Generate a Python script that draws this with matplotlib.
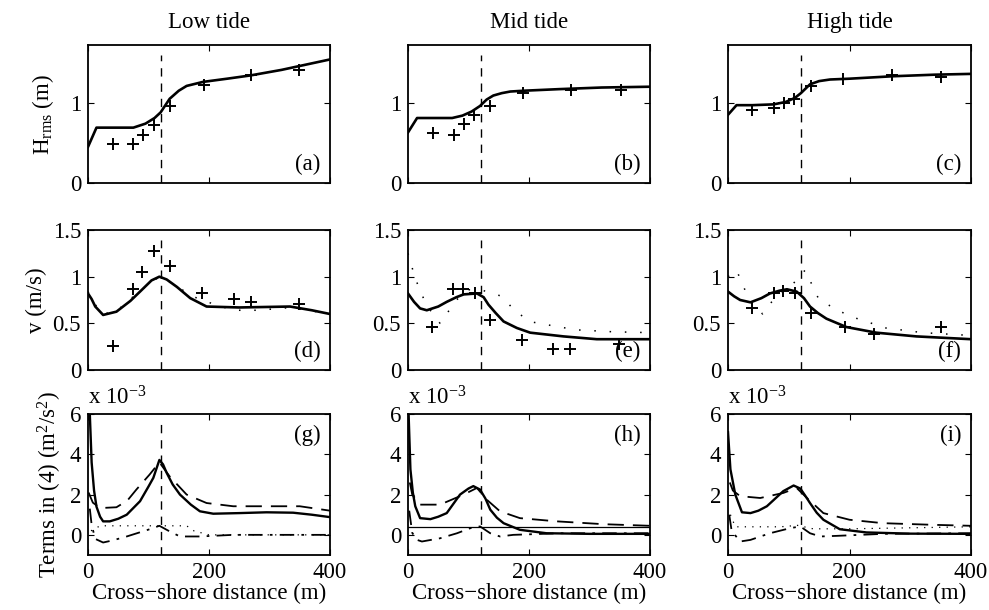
import numpy as np
import matplotlib.pyplot as plt

plt.rcParams["font.family"] = ["Liberation Serif", "DejaVu Serif"]
plt.rcParams["mathtext.fontset"] = "custom"
plt.rcParams["mathtext.rm"] = "Liberation Serif"
plt.rcParams["mathtext.it"] = "Liberation Serif:italic"
plt.rcParams["font.size"] = 16.5

titles = ["Low tide", "Mid tide", "High tide"]
x_break = 120  # vertical dashed line

# ---- row 1: Hrms model (solid) and observations (+)
h_mod_x = [[0, 14, 40, 75, 95, 110, 120, 135, 150, 163, 190, 230, 268, 320, 400],
           [0, 15, 40, 73, 90, 105, 119, 130, 141, 155, 169, 191, 250, 320, 400],
           [0, 14, 40, 75, 95, 110, 120, 135, 150, 168, 200, 270, 340, 400]]
h_mod_y = [[0.45, 0.69, 0.69, 0.69, 0.74, 0.81, 0.88, 1.05, 1.15, 1.21, 1.26, 1.30, 1.34, 1.41, 1.54],
           [0.63, 0.81, 0.81, 0.81, 0.84, 0.89, 0.96, 1.04, 1.09, 1.12, 1.14, 1.15, 1.17, 1.19, 1.20],
           [0.85, 0.97, 0.97, 0.98, 1.01, 1.06, 1.12, 1.23, 1.27, 1.29, 1.30, 1.33, 1.35, 1.36]]
h_obs_x = [[41, 75, 91, 109, 135, 192, 270, 349],
           [41, 76, 92, 109, 136, 190, 269, 352],
           [39, 76, 93, 109, 137, 190, 270, 351]]
h_obs_y = [[0.49, 0.49, 0.60, 0.72, 0.96, 1.22, 1.34, 1.41],
           [0.62, 0.60, 0.74, 0.85, 0.96, 1.12, 1.16, 1.16],
           [0.91, 0.93, 1.00, 1.05, 1.21, 1.29, 1.34, 1.32]]

# ---- row 2: longshore current v, model (solid), second model (dotted), obs (+)
v_mod_x = [[0, 6, 12, 25, 47, 70, 86, 105, 118, 130, 147, 169, 196, 250, 334, 370, 400],
           [0, 10, 20, 31, 50, 64, 80, 92, 114, 125, 133, 145, 158, 180, 202, 257, 312, 400],
           [0, 10, 20, 37, 55, 69, 85, 97, 113, 125, 135, 148, 162, 195, 244, 310, 400]]
v_mod_y = [[0.82, 0.76, 0.68, 0.59, 0.625, 0.74, 0.84, 0.96, 1.0, 0.97, 0.89, 0.77, 0.68, 0.67, 0.68, 0.64, 0.6],
           [0.82, 0.73, 0.66, 0.64, 0.68, 0.73, 0.78, 0.81, 0.82, 0.78, 0.70, 0.61, 0.52, 0.45, 0.40, 0.36, 0.33, 0.33],
           [0.84, 0.79, 0.75, 0.725, 0.77, 0.82, 0.85, 0.865, 0.84, 0.77, 0.68, 0.61, 0.55, 0.46, 0.40, 0.36, 0.33]]
v_dot_x = [[0, 12, 25, 47, 86, 118, 147, 169, 192, 240, 280, 336, 400],
           [0, 4, 12, 30, 53, 80, 100, 120, 140, 155, 173, 200, 251, 279, 337, 400],
           [0, 14, 35, 57, 80, 108, 127, 150, 199, 260, 321, 400]]
v_dot_y = [[0.84, 0.7, 0.6, 0.63, 0.85, 1.0, 0.9, 0.8, 0.74, 0.64, 0.64, 0.67, 0.6],
           [1.25, 1.16, 0.98, 0.7, 0.5, 0.75, 0.86, 0.86, 0.82, 0.79, 0.66, 0.52, 0.46, 0.43, 0.41, 0.40],
           [1.0, 1.07, 0.75, 0.6, 0.8, 0.93, 1.07, 0.75, 0.58, 0.45, 0.40, 0.37]]
v_obs_x = [[41, 75, 90, 109, 136, 189, 241, 269, 349],
           [40, 74, 91, 111, 135, 189, 239, 267, 348],
           [39, 75, 91, 110, 136, 192, 240, 350]]
v_obs_y = [[0.26, 0.87, 1.05, 1.27, 1.11, 0.83, 0.76, 0.73, 0.71],
           [0.46, 0.87, 0.87, 0.83, 0.54, 0.32, 0.23, 0.23, 0.28],
           [0.66, 0.83, 0.85, 0.82, 0.61, 0.46, 0.39, 0.46]]

# ---- row 3: terms in (4), units of 1e-3 m^2/s^2
t1_x = [[0, 3, 6, 10, 14, 20, 25, 36, 50, 64, 86, 100, 108, 118, 124, 130, 140, 152, 170, 185, 207, 250, 295, 339, 370, 400],
        [1, 4, 8, 12, 20, 37, 50, 64, 86, 100, 108, 119, 128, 136, 147, 158, 185, 229, 300, 400],
        [0, 4, 12, 23, 37, 50, 64, 91, 108, 119, 127, 135, 146, 157, 184, 228, 300, 400]]
t1_y = [[6.5, 6.0, 3.6, 2.2, 1.4, 0.9, 0.67, 0.67, 0.8, 1.0, 1.67, 2.4, 2.83, 3.72, 3.5, 3.08, 2.5, 2.0, 1.5, 1.17, 1.05, 1.08, 1.12, 1.1, 1.0, 0.88],
        [6.0, 3.25, 2.1, 1.42, 0.83, 0.78, 0.9, 1.08, 2.0, 2.3, 2.42, 2.25, 1.8, 1.25, 0.85, 0.58, 0.25, 0.08, 0.05, 0.05],
        [5.1, 3.25, 2.0, 1.12, 1.08, 1.2, 1.42, 2.17, 2.45, 2.3, 1.95, 1.58, 1.1, 0.75, 0.28, 0.12, 0.06, 0.05]]
t2_x = [[1, 8, 20, 47, 65, 80, 102, 118, 135, 163, 196, 240, 295, 350, 400],
        [3, 7, 20, 53, 92, 114, 130, 152, 185, 246, 323, 400],
        [3, 8, 20, 53, 91, 113, 130, 157, 200, 255, 336, 400]]
t2_y = [[2.1, 1.6, 1.33, 1.37, 1.7, 2.25, 3.0, 3.6, 2.9, 2.0, 1.58, 1.42, 1.42, 1.42, 1.2],
        [2.6, 2.0, 1.5, 1.5, 2.0, 2.33, 1.75, 1.17, 0.83, 0.67, 0.53, 0.45],
        [2.6, 2.2, 1.92, 1.83, 2.08, 2.33, 1.83, 1.08, 0.75, 0.58, 0.5, 0.45]]
t3_x = [[3, 6, 12, 25, 40, 64, 102, 118, 135, 152, 185, 240, 400],
        [2, 7, 15, 23, 53, 81, 103, 119, 136, 152, 174, 251, 400],
        [2, 6, 20, 37, 69, 102, 119, 135, 152, 179, 255, 400]]
t3_y = [[1.3, 0.5, -0.2, -0.38, -0.28, -0.08, 0.28, 0.45, 0.17, -0.08, -0.08, 0.0, 0.0],
        [1.2, 0.1, -0.25, -0.33, -0.17, 0.08, 0.33, 0.42, 0.08, -0.08, 0.0, 0.08, 0.08],
        [1.0, 0.2, -0.33, -0.25, 0.08, 0.33, 0.42, 0.08, -0.08, -0.05, 0.05, 0.08]]
t4_x = [[5, 20, 56, 100, 120, 163, 175, 200, 400],
        [0, 400],
        [4, 12, 40, 80, 100, 110, 125, 140, 200, 300, 400]]
t4_y = [[0.2, 0.45, 0.45, 0.45, 0.45, 0.45, 0.2, 0.0, 0.0],
        [0.4, 0.4],
        [1.0, 0.4, 0.4, 0.4, 0.42, 0.5, 0.4, 0.3, 0.3, 0.35, 0.4]]

panel_tags = [["(a)", "(b)", "(c)"], ["(d)", "(e)", "(f)"], ["(g)", "(h)", "(i)"]]

W, H = 989, 610
fig = plt.figure(figsize=(W / 100, H / 100), dpi=100)

col_left = [88, 408, 728]
col_w = [242, 242, 243]
row_top = [45, 230, 414]
row_bot = [183, 370, 555]


def make_ax(r, c):
    ax = fig.add_axes([col_left[c] / W, 1 - row_bot[r] / H,
                       col_w[c] / W, (row_bot[r] - row_top[r]) / H])
    ax.tick_params(direction="in", top=True, right=True, length=4, width=0.8, pad=5)
    for s in ax.spines.values():
        s.set_linewidth(1.3)
    ax.set_xlim(0, 400)
    ax.set_xticks([0, 200, 400])
    return ax


mk = dict(ls="none", marker="+", ms=9, mew=1.4, color="k")
dash_v = dict(color="k", lw=1.0, ls=(0, (6, 5)), ymax=0.93)
sparse_dot = (0, (1, 9))

for c in range(3):
    # row 1
    ax = make_ax(0, c)
    ax.plot(h_mod_x[c], h_mod_y[c], color="k", lw=1.9)
    ax.plot(h_obs_x[c], h_obs_y[c], **mk)
    ax.axvline(x_break, **dash_v)
    ax.set_ylim(0, 1.72)
    ax.set_yticks([0, 1])
    ax.set_xticklabels([])
    ax.set_title(titles[c], pad=12, fontsize=16.5)
    ax.text(0.96, 0.06, panel_tags[0][c], transform=ax.transAxes, ha="right", va="bottom")
    if c == 0:
        ax.set_ylabel(r"H$_{\rm rms}$ (m)", labelpad=10)

    # row 2
    ax = make_ax(1, c)
    ax.plot(v_dot_x[c], v_dot_y[c], color="k", lw=1.1, ls=sparse_dot)
    ax.plot(v_mod_x[c], v_mod_y[c], color="k", lw=1.9)
    ax.plot(v_obs_x[c], v_obs_y[c], **mk)
    ax.axvline(x_break, **dash_v)
    ax.set_ylim(0, 1.5)
    ax.set_yticks([0, 0.5, 1, 1.5])
    ax.set_yticklabels(["0", "0.5", "1", "1.5"])
    ax.set_xticklabels([])
    ax.text(0.96, 0.06, panel_tags[1][c], transform=ax.transAxes, ha="right", va="bottom")
    if c == 0:
        ax.set_ylabel("v (m/s)", labelpad=4)

    # row 3
    ax = make_ax(2, c)
    ax.plot(t4_x[c], t4_y[c], color="k", lw=0.9, ls="-" if c == 1 else (0, (1, 5)))
    ax.plot(t3_x[c], t3_y[c], color="k", lw=1.3, ls=(0, (8, 4, 1.5, 4)))
    ax.plot(t2_x[c], t2_y[c], color="k", lw=1.3, ls=(0, (9, 5)))
    ax.plot(t1_x[c], t1_y[c], color="k", lw=1.7)
    ax.axvline(x_break, **dash_v)
    ax.set_ylim(-1, 6)
    ax.set_yticks([0, 2, 4, 6])
    ax.set_xticklabels(["0", "200", "400"])
    ax.set_xlabel("Cross\u2212shore distance (m)", labelpad=0)
    ax.text(0.96, 0.92, panel_tags[2][c], transform=ax.transAxes, ha="right", va="top")
    ax.text(0.0, 1.03, r"x 10$^{-3}$", transform=ax.transAxes, ha="left", va="bottom")
    if c == 0:
        ax.set_ylabel(r"Terms in (4) (m$^2$/s$^2$)", labelpad=4)

fig.savefig("out.png", dpi=100)
